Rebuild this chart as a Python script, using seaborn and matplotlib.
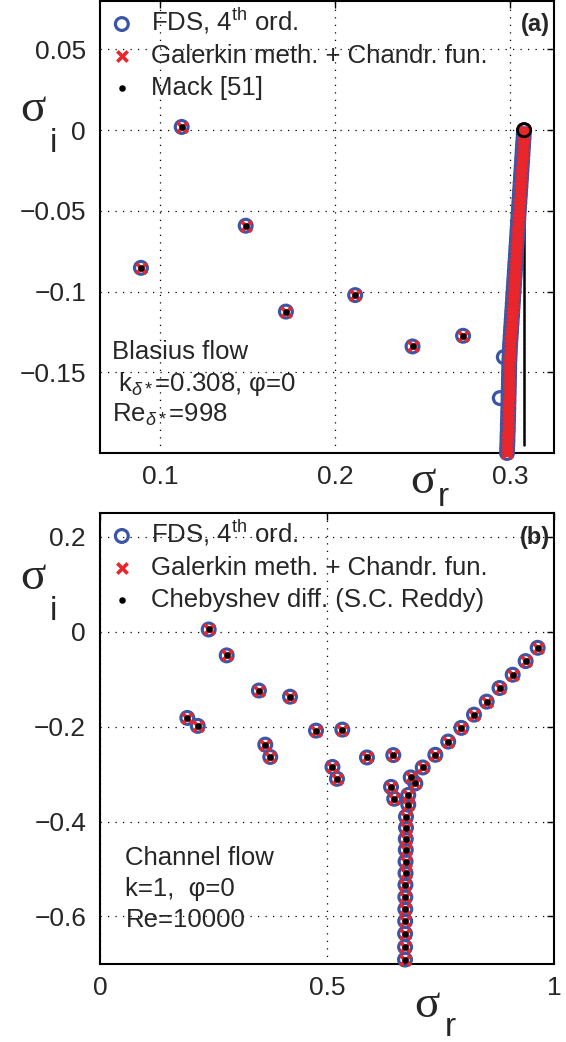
import matplotlib
matplotlib.use("Agg")  # headless
import matplotlib.pyplot as plt
import seaborn as sns

# ---- (a) Blasius flow, k=0.308, Re=998 ----
# discrete eigenvalues (sigma_r, sigma_i), all three methods
blas_disc_r = [0.0891, 0.1124, 0.1490, 0.1720, 0.2116, 0.2444, 0.2733]
blas_disc_i = [-0.0853, 0.0020, -0.0592, -0.1124, -0.1022, -0.1340, -0.1274]

# discretised continuous branch (FDS and Galerkin lie on top of each other)
blas_cont_r = [0.3082, 0.3080, 0.3079, 0.3077, 0.3076, 0.3074, 0.3073, 0.3071,
               0.3070, 0.3068, 0.3067, 0.3065, 0.3064, 0.3062, 0.3061, 0.3059,
               0.3058, 0.3056, 0.3055, 0.3053, 0.3052, 0.3050, 0.3049, 0.3047,
               0.3046, 0.3044, 0.3043, 0.3041, 0.3040, 0.3038, 0.3037, 0.3035,
               0.3034, 0.3032, 0.3031, 0.3029, 0.3028, 0.3026, 0.3025, 0.3023,
               0.3022, 0.3020, 0.3019, 0.3017, 0.3016, 0.3014, 0.3013, 0.3011,
               0.3010, 0.3008, 0.3007, 0.3005, 0.3004, 0.3002, 0.3001, 0.3000,
               0.2999, 0.2998, 0.2997, 0.2997, 0.2996, 0.2996, 0.2995, 0.2995,
               0.2994, 0.2994, 0.2993, 0.2993, 0.2992, 0.2992, 0.2991, 0.2991,
               0.2990, 0.2989, 0.2989, 0.2988, 0.2987, 0.2987, 0.2986, 0.2985,
               0.2984]
blas_cont_i = [0.0, -0.0025, -0.005, -0.0075, -0.01, -0.0125, -0.015, -0.0175,
               -0.02, -0.0225, -0.025, -0.0275, -0.03, -0.0325, -0.035, -0.0375,
               -0.04, -0.0425, -0.045, -0.0475, -0.05, -0.0525, -0.055, -0.0575,
               -0.06, -0.0625, -0.065, -0.0675, -0.07, -0.0725, -0.075, -0.0775,
               -0.08, -0.0825, -0.085, -0.0875, -0.09, -0.0925, -0.095, -0.0975,
               -0.1, -0.1025, -0.105, -0.1075, -0.11, -0.1125, -0.115, -0.1175,
               -0.12, -0.1225, -0.125, -0.1275, -0.13, -0.1325, -0.135, -0.1375,
               -0.14, -0.1425, -0.145, -0.1475, -0.15, -0.1525, -0.155, -0.1575,
               -0.16, -0.1625, -0.165, -0.1675, -0.17, -0.1725, -0.175, -0.1775,
               -0.18, -0.1825, -0.185, -0.1875, -0.19, -0.1925, -0.195, -0.1975,
               -0.2]

# FDS-only points off the branch
blas_fds_extra_r = [0.2966, 0.2943]
blas_fds_extra_i = [-0.1406, -0.1660]

# Mack continuous spectrum (sigma_r = k)
mack_line_r = [0.3082, 0.3082]
mack_line_i = [0.0, -0.195]

# ---- (b) Channel flow, k=1, Re=10000 ----
chan_r = [0.2394, 0.2790, 0.3500, 0.4185, 0.1923, 0.2152, 0.4758, 0.5338,
          0.3640, 0.3750, 0.5120, 0.5220, 0.5880, 0.6460, 0.6410, 0.6480,
          0.9640, 0.9375, 0.9090, 0.8800, 0.8517, 0.8238, 0.7959, 0.7670,
          0.7386, 0.7108, 0.6843, 0.6945,
          0.6790, 0.6790, 0.6740, 0.6740, 0.6735, 0.6735, 0.6730, 0.6730,
          0.6728, 0.6725, 0.6725, 0.6722, 0.6720, 0.6720, 0.6718]
chan_i = [0.0046, -0.0500, -0.1240, -0.1370, -0.1817, -0.1985, -0.2084, -0.2063,
          -0.2380, -0.2640, -0.2850, -0.3100, -0.2650, -0.2600, -0.3270, -0.3520,
          -0.0340, -0.0620, -0.0907, -0.1187, -0.1474, -0.1748, -0.2027, -0.2315,
          -0.2594, -0.2861, -0.3070, -0.3197,
          -0.3440, -0.3645, -0.3897, -0.4128, -0.4366, -0.4597, -0.4842, -0.5088,
          -0.5332, -0.5592, -0.5845, -0.6097, -0.6361, -0.6643, -0.6907]

FDS_BLUE = "#3a56a6"
GAL_RED = "#e8262b"
FS = 18.5

sns.set_style("white")
plt.rcParams["font.family"] = ["Liberation Sans", "DejaVu Sans"]
plt.rcParams["mathtext.fontset"] = "custom"
plt.rcParams["mathtext.rm"] = "Liberation Sans"
plt.rcParams["mathtext.it"] = "Liberation Sans:italic"
plt.rcParams["axes.unicode_minus"] = True

fig = plt.figure(figsize=(5.66, 10.42), dpi=100)
ax_a = fig.add_axes([0.1767, 0.5653, 0.8021, 0.4337])
ax_b = fig.add_axes([0.1767, 0.0749, 0.8021, 0.4328])


def scatter_methods(ax, fds_x, fds_y, gal_x, gal_y, ref_x, ref_y, ref_label):
    sns.scatterplot(x=fds_x, y=fds_y, ax=ax, marker="o", s=85, color=FDS_BLUE,
                    facecolor="none", edgecolor=FDS_BLUE, linewidth=2.3,
                    label="FDS, 4$^{\\mathrm{th}}$ ord.", clip_on=False, zorder=3)
    sns.scatterplot(x=gal_x, y=gal_y, ax=ax, marker="x", s=55, color=GAL_RED,
                    linewidth=2.6, label="Galerkin meth. + Chandr. fun.",
                    clip_on=False, zorder=4)
    sns.scatterplot(x=ref_x, y=ref_y, ax=ax, marker="o", s=22, color="black",
                    edgecolor="black", linewidth=0, label=ref_label,
                    clip_on=False, zorder=5)


def style_axes(ax, xlim, ylim, xticks, xlabels, yticks, ylabels):
    ax.set_xlim(*xlim)
    ax.set_ylim(*ylim)
    ax.set_xticks(xticks)
    ax.set_xticklabels(xlabels, fontsize=19)
    ax.set_yticks(yticks)
    ax.set_yticklabels(ylabels, fontsize=19)
    ax.tick_params(direction="in", length=5, width=1, top=True, right=True,
                   color="black")
    ax.tick_params(axis="x", pad=9)
    ax.tick_params(axis="y", pad=10)
    ax.grid(True, color="black", linestyle=(0, (1, 5)), linewidth=0.9)
    for sp in ax.spines.values():
        sp.set_linewidth(1.5)
        sp.set_color("black")
    ax.set_xlabel("")
    ax.set_ylabel("")
    ax.legend(loc="upper left", frameon=False, fontsize=FS, handlelength=1.3,
              handletextpad=0.5, borderaxespad=0.05, borderpad=0.15,
              labelspacing=0.3)


# ---- panel (a) ----
ax_a.plot(mack_line_r, mack_line_i, color="black", linewidth=1.8, zorder=2)
scatter_methods(ax_a,
                blas_disc_r + blas_fds_extra_r + blas_cont_r,
                blas_disc_i + blas_fds_extra_i + blas_cont_i,
                blas_disc_r + blas_cont_r, blas_disc_i + blas_cont_i,
                blas_disc_r, blas_disc_i, "Mack [51]")
ax_a.scatter(mack_line_r[:1], mack_line_i[:1], s=90, facecolor="none",
             edgecolor="black", linewidth=2, zorder=6)
style_axes(ax_a, (0.0657, 0.3253), (-0.2, 0.08),
           [0.1, 0.2, 0.3], ["0.1", "0.2", "0.3"],
           [-0.15, -0.1, -0.05, 0, 0.05],
           ["\u22120.15", "\u22120.1", "\u22120.05", "0", "0.05"])
ax_a.text(0.991, 0.947, "(a)", transform=ax_a.transAxes, ha="right",
          va="center", fontsize=17, fontweight="bold")
ax_a.text(0.026, 0.223, "Blasius flow", transform=ax_a.transAxes,
          ha="left", va="center", fontsize=FS)
ax_a.text(0.04, 0.152, "k$_{\\delta *}$=0.308, \u03c6=0", transform=ax_a.transAxes,
          ha="left", va="center", fontsize=FS)
ax_a.text(0.026, 0.084, "Re$_{\\delta *}$=998", transform=ax_a.transAxes,
          ha="left", va="center", fontsize=FS)

# ---- panel (b) ----
scatter_methods(ax_b, chan_r, chan_i, chan_r, chan_i, chan_r, chan_i,
                "Chebyshev diff. (S.C. Reddy)")
style_axes(ax_b, (0, 1), (-0.7, 0.25),
           [0, 0.5, 1], ["0", "0.5", "1"],
           [-0.6, -0.4, -0.2, 0, 0.2],
           ["\u22120.6", "\u22120.4", "\u22120.2", "0", "0.2"])
ax_b.text(0.991, 0.945, "(b)", transform=ax_b.transAxes, ha="right",
          va="center", fontsize=17, fontweight="bold")
ax_b.text(0.056, 0.235, "Channel flow", transform=ax_b.transAxes,
          ha="left", va="center", fontsize=FS)
ax_b.text(0.056, 0.166, "k=1,  \u03c6=0", transform=ax_b.transAxes,
          ha="left", va="center", fontsize=FS)
ax_b.text(0.056, 0.098, "Re=10000", transform=ax_b.transAxes,
          ha="left", va="center", fontsize=FS)


# ---- axis symbols (placed like the original, in figure coords) ----
def sigma_label(x, y, sub, dx, dy):
    fig.text(x, y, "\u03c3", fontsize=34, ha="center", va="center",
             family=["Liberation Serif", "DejaVu Serif"])
    fig.text(x + dx, y + dy, sub, fontsize=24, ha="center", va="center")


sigma_label(33 / 566, 1 - 110 / 1042, "i", 20 / 566, -33 / 1042)
sigma_label(33 / 566, 1 - 578 / 1042, "i", 20 / 566, -33 / 1042)
sigma_label(423 / 566, 1 - 482 / 1042, "r", 20 / 566, -16 / 1042)
sigma_label(427 / 566, 1 - 1006 / 1042, "r", 23 / 566, -22 / 1042)

fig.savefig("out.png", dpi=100)
plt.close(fig)
